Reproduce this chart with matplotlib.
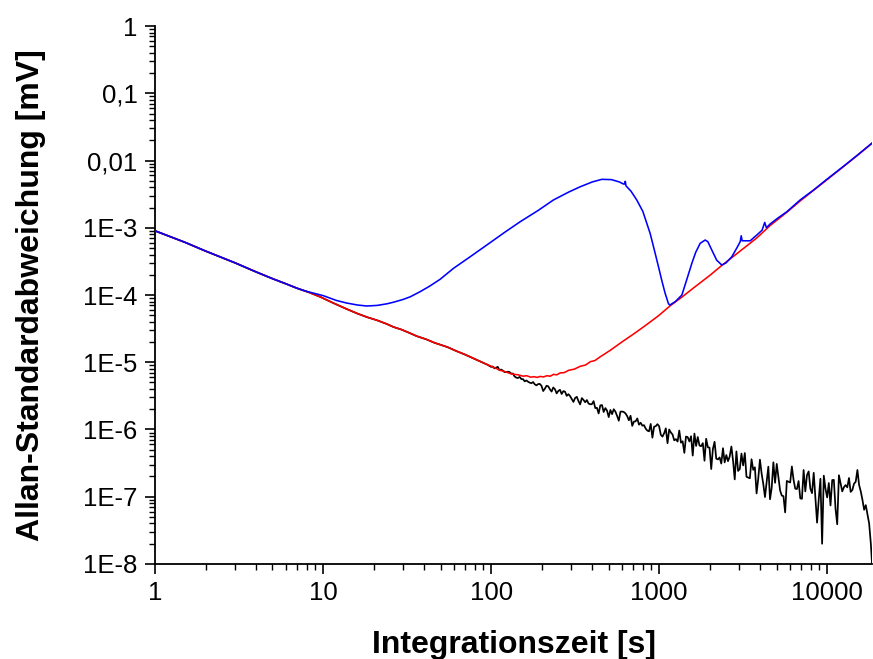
"""
Allan deviation plot (log-log), three curves.
"""

import matplotlib
matplotlib.use("Agg")
import matplotlib.pyplot as plt
from matplotlib.ticker import FixedLocator, FixedFormatter, LogLocator, NullFormatter

# short-term part shared by all three curves
common_tau = [1, 1.5, 2, 3, 4, 5, 6, 7]
common_sig = [9.0e-4, 6.1e-4, 4.5e-4, 3.0e-4, 2.2e-4, 1.75e-4, 1.47e-4, 1.26e-4]

# red curve after the shared part (black follows it up to ~95 s)
red_tau = [8.2, 9.6, 11.5, 13.8, 16, 18.2, 21, 24, 26.2, 29.4, 33, 36, 41, 46, 50,
           55, 62, 70, 78, 86, 95]
red_sig = [1.10e-4, 9.4e-5, 7.6e-5, 6.2e-5, 5.3e-5, 4.7e-5, 4.2e-5, 3.7e-5, 3.35e-5,
           3.05e-5, 2.7e-5, 2.45e-5, 2.2e-5, 1.95e-5, 1.82e-5, 1.68e-5, 1.47e-5,
           1.3e-5, 1.15e-5, 1.03e-5, 9.2e-6]
red_tau2 = [105, 113, 122, 132, 145, 155, 163, 172, 180, 188, 196, 205, 215, 225, 235,
            246, 258, 272, 290, 313, 339, 365, 390, 415, 445, 511, 600, 700, 800, 900,
            1000, 1162, 1366, 1600, 2000, 2360, 3000, 3800, 4581, 5754, 6906, 8297,
            10000, 12500, 15000, 18500]
red_sig2 = [8.3e-6, 7.6e-6, 7.2e-6, 6.7e-6, 6.5e-6, 6.2e-6, 6.3e-6, 6.0e-6, 6.1e-6,
            5.95e-6, 6.15e-6, 6.05e-6, 6.3e-6, 6.2e-6, 6.6e-6, 6.5e-6, 6.95e-6, 7.0e-6,
            7.6e-6, 7.9e-6, 8.7e-6, 9.1e-6, 1.02e-5, 1.06e-5, 1.2e-5, 1.5e-5, 2.0e-5,
            2.6e-5, 3.3e-5, 4.1e-5, 5.0e-5, 6.9e-5, 9.3e-5, 1.27e-4, 1.95e-4, 2.75e-4,
            4.4e-4, 7.0e-4, 1.08e-3, 1.7e-3, 2.5e-3, 3.6e-3, 5.2e-3, 8.1e-3, 1.17e-2,
            1.8e-2]

# blue curve after the shared part
blue_tau = [8, 10, 12, 13.8, 16, 18.2, 21, 24, 26.2, 30, 33, 37.8, 43, 49.7, 59.7, 75,
            94.3, 120, 149, 190, 235, 290, 339, 400, 456, 520, 580, 610, 620, 629, 635,
            680, 736, 800, 884, 940, 991, 1040, 1086, 1137, 1160, 1250, 1366, 1450,
            1566, 1650, 1755, 1879, 1950, 2058, 2200, 2360, 2500, 2709, 2900, 3037,
            3080, 3120, 3300, 3483, 3815, 4100, 4250, 4350, 4581, 5100, 5754, 6906,
            8297, 10000, 12500, 15000, 18500]
blue_sig = [1.13e-4, 9.8e-5, 8.3e-5, 7.6e-5, 7.1e-5, 6.86e-5, 7.0e-5, 7.4e-5, 7.8e-5,
            8.6e-5, 9.4e-5, 1.12e-4, 1.35e-4, 1.71e-4, 2.49e-4, 3.7e-4, 5.54e-4, 8.5e-4,
            1.23e-3, 1.8e-3, 2.59e-3, 3.4e-3, 4.07e-3, 4.8e-3, 5.25e-3, 5.2e-3, 4.8e-3,
            4.5e-3, 4.45e-3, 4.9e-3, 4.2e-3, 3.5e-3, 2.59e-3, 1.75e-3, 8.26e-4, 4.5e-4,
            2.64e-4, 1.6e-4, 1.06e-4, 7.4e-5, 7.1e-5, 8.0e-5, 1.0e-4, 1.6e-4, 2.96e-4,
            4.3e-4, 5.87e-4, 6.57e-4, 6.2e-4, 4.67e-4, 3.3e-4, 2.79e-4, 3.0e-4, 3.71e-4,
            5.0e-4, 6.2e-4, 7.6e-4, 6.4e-4, 6.4e-4, 6.4e-4, 7.8e-4, 9.2e-4, 1.2e-3,
            1.0e-3, 1.14e-3, 1.4e-3, 1.73e-3, 2.59e-3, 3.64e-3, 5.3e-3, 8.2e-3, 1.18e-2,
            1.82e-2]

# black curve: own noisy tail from 100 s on
black_tau = [
    100, 102.3, 104.7, 107.2, 109.6, 112.2, 114.8, 117.5, 120.2, 123.0,
    125.9, 128.8, 131.8, 134.9, 138.0, 141.3, 144.5, 147.9, 151.4, 154.9,
    158.5, 162.2, 166.0, 169.8, 173.8, 177.8, 182.0, 186.2, 190.5, 195.0,
    199.5, 204.2, 208.9, 213.8, 218.8, 223.9, 229.1, 234.4, 239.9, 245.5,
    251.2, 257.0, 263.0, 269.2, 275.4, 281.8, 288.4, 295.1, 302.0, 309.0,
    316.2, 323.6, 331.1, 338.8, 346.7, 354.8, 363.1, 371.5, 380.2, 389.0,
    398.1, 407.4, 416.9, 426.6, 436.5, 446.7, 457.1, 467.7, 478.6, 489.8,
    501.2, 512.9, 524.8, 537.0, 549.5, 562.3, 575.4, 588.8, 602.6, 616.6,
    631.0, 645.7, 660.7, 676.1, 691.8, 707.9, 724.4, 741.3, 758.6, 776.2,
    794.3, 812.8, 831.8, 851.1, 871.0, 891.3, 912.0, 933.3, 955.0, 977.2,
    1000, 1023, 1047, 1072, 1096, 1122, 1148, 1175, 1202, 1230,
    1259, 1288, 1318, 1349, 1380, 1413, 1445, 1479, 1514, 1549,
    1585, 1622, 1660, 1698, 1738, 1778, 1820, 1862, 1905, 1950,
    1995, 2042, 2089, 2138, 2188, 2239, 2291, 2344, 2399, 2455,
    2512, 2570, 2630, 2692, 2754, 2818, 2884, 2951, 3020, 3090,
    3162, 3236, 3311, 3388, 3467, 3548, 3631, 3715, 3802, 3890,
    3981, 4074, 4169, 4266, 4365, 4467, 4571, 4677, 4786, 4898,
    5012, 5129, 5248, 5370, 5495, 5623, 5754, 5888, 6026, 6166,
    6310, 6457, 6607, 6761, 6918, 7079, 7244, 7413, 7586, 7762,
    7943, 8128, 8318, 8511, 8710, 8913, 9120, 9333, 9550, 9772,
    10000, 10230, 10470, 10720, 10960, 11220, 11480, 11750, 12020, 12300,
    12590, 12880, 13180, 13490, 13800, 14130, 14450, 14790, 15140, 15490,
    15850, 16220, 16600, 16980, 17380, 17780, 18200, 18500]
black_sig = [
    8.53e-6, 8.63e-6, 8.11e-6, 8.32e-6, 8.53e-6, 7.60e-6, 7.80e-6, 7.52e-6, 7.14e-6, 7.14e-6,
    7.23e-6, 7.14e-6, 6.79e-6, 6.79e-6, 6.14e-6, 5.90e-6, 5.83e-6, 6.05e-6, 5.61e-6, 5.61e-6,
    5.20e-6, 5.36e-6, 5.13e-6, 4.97e-6, 4.88e-6, 5.08e-6, 4.69e-6, 4.53e-6, 4.74e-6, 4.76e-6,
    4.46e-6, 3.73e-6, 4.04e-6, 4.47e-6, 4.39e-6, 3.96e-6, 3.66e-6, 4.22e-6, 3.97e-6, 3.44e-6,
    3.74e-6, 3.89e-6, 3.37e-6, 3.72e-6, 3.65e-6, 3.16e-6, 3.35e-6, 3.14e-6, 2.84e-6, 2.57e-6,
    2.94e-6, 3.06e-6, 2.65e-6, 2.36e-6, 2.93e-6, 2.75e-6, 2.54e-6, 2.74e-6, 2.43e-6, 2.37e-6,
    2.38e-6, 2.64e-6, 2.08e-6, 2.10e-6, 1.73e-6, 2.28e-6, 2.31e-6, 1.82e-6, 2.08e-6, 1.91e-6,
    1.53e-6, 1.95e-6, 1.69e-6, 2.00e-6, 1.84e-6, 1.59e-6, 1.35e-6, 1.84e-6, 1.85e-6, 1.82e-6,
    1.73e-6, 1.58e-6, 1.37e-6, 1.60e-6, 1.13e-6, 1.31e-6, 1.32e-6, 1.46e-6, 1.18e-6, 1.26e-6,
    1.14e-6, 1.16e-6, 1.03e-6, 9.62e-7, 9.40e-7, 1.21e-6, 7.55e-7, 1.10e-6, 1.12e-6, 1.20e-6,
    1.12e-6, 8.36e-7, 7.83e-7, 8.83e-7, 1.04e-6, 6.25e-7, 1.00e-6, 9.00e-7, 8.43e-7, 6.89e-7,
    7.19e-7, 6.61e-7, 9.66e-7, 6.37e-7, 6.68e-7, 4.49e-7, 7.85e-7, 7.71e-7, 6.64e-7, 7.94e-7,
    4.09e-7, 8.69e-7, 5.69e-7, 7.73e-7, 5.78e-7, 5.64e-7, 6.27e-7, 3.43e-7, 7.28e-7, 5.43e-7,
    5.37e-7, 2.58e-7, 5.11e-7, 6.56e-7, 3.68e-7, 3.59e-7, 3.84e-7, 3.11e-7, 5.27e-7, 3.24e-7,
    4.17e-7, 3.38e-7, 3.96e-7, 5.58e-7, 3.44e-7, 1.81e-7, 4.72e-7, 2.42e-7, 2.58e-7, 4.38e-7,
    2.92e-7, 4.47e-7, 1.98e-7, 1.93e-7, 1.88e-7, 3.61e-7, 2.51e-7, 2.74e-7, 1.12e-7, 1.86e-7,
    3.56e-7, 2.21e-7, 1.54e-7, 9.89e-8, 1.64e-7, 2.80e-7, 9.16e-8, 1.36e-7, 3.25e-7, 1.61e-7,
    3.08e-7, 1.95e-7, 1.24e-7, 1.04e-7, 1.02e-7, 5.85e-8, 1.72e-7, 1.67e-7, 1.63e-7, 2.82e-7,
    1.79e-7, 1.32e-7, 1.30e-7, 1.71e-7, 9.46e-8, 9.31e-8, 2.50e-7, 1.20e-7, 2.10e-7, 2.38e-7,
    1.32e-7, 1.13e-7, 2.27e-7, 9.46e-8, 4.11e-8, 9.16e-8, 1.85e-7, 2.00e-8, 2.06e-7, 1.32e-7,
    9.75e-8, 1.60e-7, 7.41e-8, 1.77e-7, 1.78e-7, 6.56e-8, 3.89e-8, 2.09e-7, 1.58e-7, 1.20e-7,
    1.39e-7, 1.49e-7, 1.38e-7, 1.90e-7, 1.18e-7, 1.26e-7, 1.56e-7, 1.67e-7, 2.50e-7, 1.50e-7,
    1.20e-7, 9.0e-8, 6.4e-8, 7.5e-8, 5.5e-8, 4.0e-8, 2.0e-8, 1.0e-8]

x_ticks = [1, 10, 100, 1000, 10000]
x_ticklabels = ["1", "10", "100", "1000", "10000"]
y_ticks = [1, 0.1, 0.01, 1e-3, 1e-4, 1e-5, 1e-6, 1e-7, 1e-8]
y_ticklabels = ["1", "0,1", "0,01", "1E-3", "1E-4", "1E-5", "1E-6", "1E-7", "1E-8"]

plt.rcParams["font.family"] = ["Liberation Sans", "DejaVu Sans"]

fig = plt.figure(figsize=(8.73, 6.59), dpi=100)
ax = fig.add_axes([0.1776, 0.1442, 0.8213, 0.8163])

# black below red below blue
ax.plot(common_tau + red_tau + black_tau, common_sig + red_sig + black_sig,
        color="black", lw=1.25, zorder=2)
ax.plot(common_tau + red_tau + red_tau2, common_sig + red_sig + red_sig2,
        color="#ff0000", lw=1.15, zorder=3)
ax.plot(common_tau + blue_tau, common_sig + blue_sig,
        color="#0000ff", lw=1.15, zorder=4)

ax.set_xscale("log")
ax.set_yscale("log")
ax.set_xlim(1, 18500)
ax.set_ylim(1e-8, 1)

ax.xaxis.set_major_locator(FixedLocator(x_ticks))
ax.xaxis.set_major_formatter(FixedFormatter(x_ticklabels))
ax.yaxis.set_major_locator(FixedLocator(y_ticks))
ax.yaxis.set_major_formatter(FixedFormatter(y_ticklabels))
ax.xaxis.set_minor_locator(LogLocator(base=10, subs=range(2, 10), numticks=20))
ax.yaxis.set_minor_locator(LogLocator(base=10, subs=range(2, 10), numticks=20))
ax.xaxis.set_minor_formatter(NullFormatter())
ax.yaxis.set_minor_formatter(NullFormatter())

for side in ["top", "right"]:
    ax.spines[side].set_visible(False)
for side in ["left", "bottom"]:
    ax.spines[side].set_linewidth(1.3)

ax.tick_params(which="major", direction="out", length=7.5, width=1.2,
               labelsize=18.5, pad=5)
ax.tick_params(which="minor", direction="out", length=4, width=1.0)

ax.set_xlabel("Integrationszeit [s]", fontsize=23, fontweight="bold", labelpad=18)
ax.set_ylabel("Allan-Standardabweichung [mV]", fontsize=23, fontweight="bold", labelpad=27)

fig.savefig("out.png", dpi=100)
